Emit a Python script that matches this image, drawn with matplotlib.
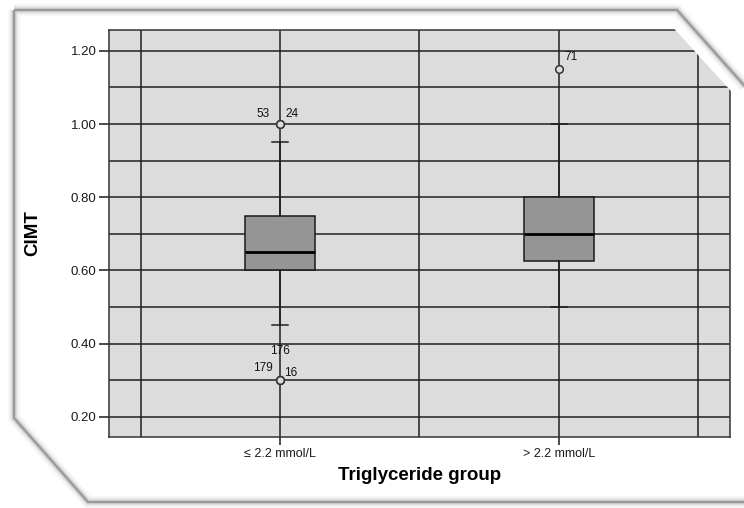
import matplotlib.pyplot as plt
from matplotlib.patches import Polygon
from matplotlib.ticker import MultipleLocator, FixedLocator

plt.rcParams['font.family'] = ['Liberation Sans', 'DejaVu Sans']

# CIMT by triglyceride group
groups = ["≤ 2.2 mmol/L", "> 2.2 mmol/L"]
q1 = [0.60, 0.625]
median = [0.65, 0.70]
q3 = [0.75, 0.80]
whisker_low = [0.45, 0.50]
whisker_high = [0.95, 1.00]
outliers = [[1.00, 1.00, 0.30, 0.30, 0.30], [1.15]]
outlier_ids = [["53", "24", "179", "16", "176"], ["71"]]

# label offsets in pixels (dx, dy, ha) for each outlier case number
label_offsets = {
    "53": (-10, 10.5, "right"),
    "24": (5, 10.5, "left"),
    "179": (-7, 12.5, "right"),
    "16": (4, 7.5, "left"),
    "176": (0, 29.5, "center"),
    "71": (5.5, 12.5, "left"),
}

W, H = 744, 508
fig = plt.figure(figsize=(W / 100, H / 100), dpi=100)
fig.patch.set_facecolor("white")


def px(x, y):
    return (x / W, 1 - y / H)


ax = fig.add_axes([109 / W, 1 - 437 / H, (730 - 109) / W, (437 - 30) / H])
ax.set_facecolor("#dcdcdc")

stats = []
for i in range(len(groups)):
    stats.append(dict(q1=q1[i], med=median[i], q3=q3[i],
                      whislo=whisker_low[i], whishi=whisker_high[i],
                      fliers=outliers[i]))

positions = list(range(1, len(groups) + 1))
ax.bxp(stats, positions=positions, widths=0.25, capwidths=0.058,
       patch_artist=True,
       boxprops=dict(facecolor="#959595", edgecolor="#1a1a1a", linewidth=1.1),
       medianprops=dict(color="black", linewidth=2),
       whiskerprops=dict(color="#1f1f1f", linewidth=1.1),
       capprops=dict(color="#1f1f1f", linewidth=1.1),
       flierprops=dict(marker="o", markersize=5.5, markerfacecolor="#dcdcdc",
                       markeredgecolor="#333333", markeredgewidth=1.1))

for i, pos in enumerate(positions):
    for val, cid in zip(outliers[i], outlier_ids[i]):
        dx, dy, ha = label_offsets[cid]
        ax.annotate(cid, (pos, val), xytext=(dx * 0.72, dy * 0.72),
                    textcoords="offset points", ha=ha, va="center",
                    fontsize=8.5, color="#111111")

ax.set_xlim(0.387, 2.613)
ax.set_ylim(0.145, 1.257)

ax.yaxis.set_major_locator(MultipleLocator(0.2))
ax.yaxis.set_minor_locator(MultipleLocator(0.1))
ax.yaxis.set_major_formatter(plt.FormatStrFormatter("%.2f"))
ax.xaxis.set_major_locator(FixedLocator(positions))
ax.xaxis.set_minor_locator(FixedLocator([0.5, 1.5, 2.5]))
ax.set_xticklabels(groups)

ax.set_axisbelow(True)
ax.grid(True, which="both", color="#1f1f1f", linewidth=1.1)
ax.tick_params(axis="y", which="major", length=7, width=1.1, pad=2,
               labelsize=9.5, colors="#1a1a1a")
ax.tick_params(axis="x", which="major", length=6, width=1.1, pad=2,
               labelsize=9, colors="#1a1a1a")
ax.tick_params(which="minor", length=0)
for s in ax.spines.values():
    s.set_color("#333333")
    s.set_linewidth(1.1)

ax.set_ylabel("CIMT", fontsize=13.5, fontweight="bold", labelpad=21)
ax.set_xlabel("Triglyceride group", fontsize=13.5, fontweight="bold", labelpad=5)

# white mask cutting the top right corner of the plot
mask = Polygon([px(647.5, 0), px(775, 0), px(775, 135), px(771, 135)],
               closed=True, transform=fig.transFigure, facecolor="white",
               edgecolor="none", zorder=5)
fig.add_artist(mask)

# panel outline with a soft shadow
panel = [px(14, 10), px(677, 10), px(750, 92), px(750, 502),
         px(88, 502), px(14, 418)]
for lw, alpha in [(9, 0.06), (6, 0.1), (3.5, 0.25)]:
    fig.add_artist(Polygon(panel, closed=True, transform=fig.transFigure,
                           facecolor="none", edgecolor="#808080",
                           linewidth=lw, alpha=alpha, zorder=6))
fig.add_artist(Polygon(panel, closed=True, transform=fig.transFigure,
                       facecolor="none", edgecolor="#9a9a9a",
                       linewidth=1.6, zorder=7))

fig.savefig("out.png", dpi=100)
